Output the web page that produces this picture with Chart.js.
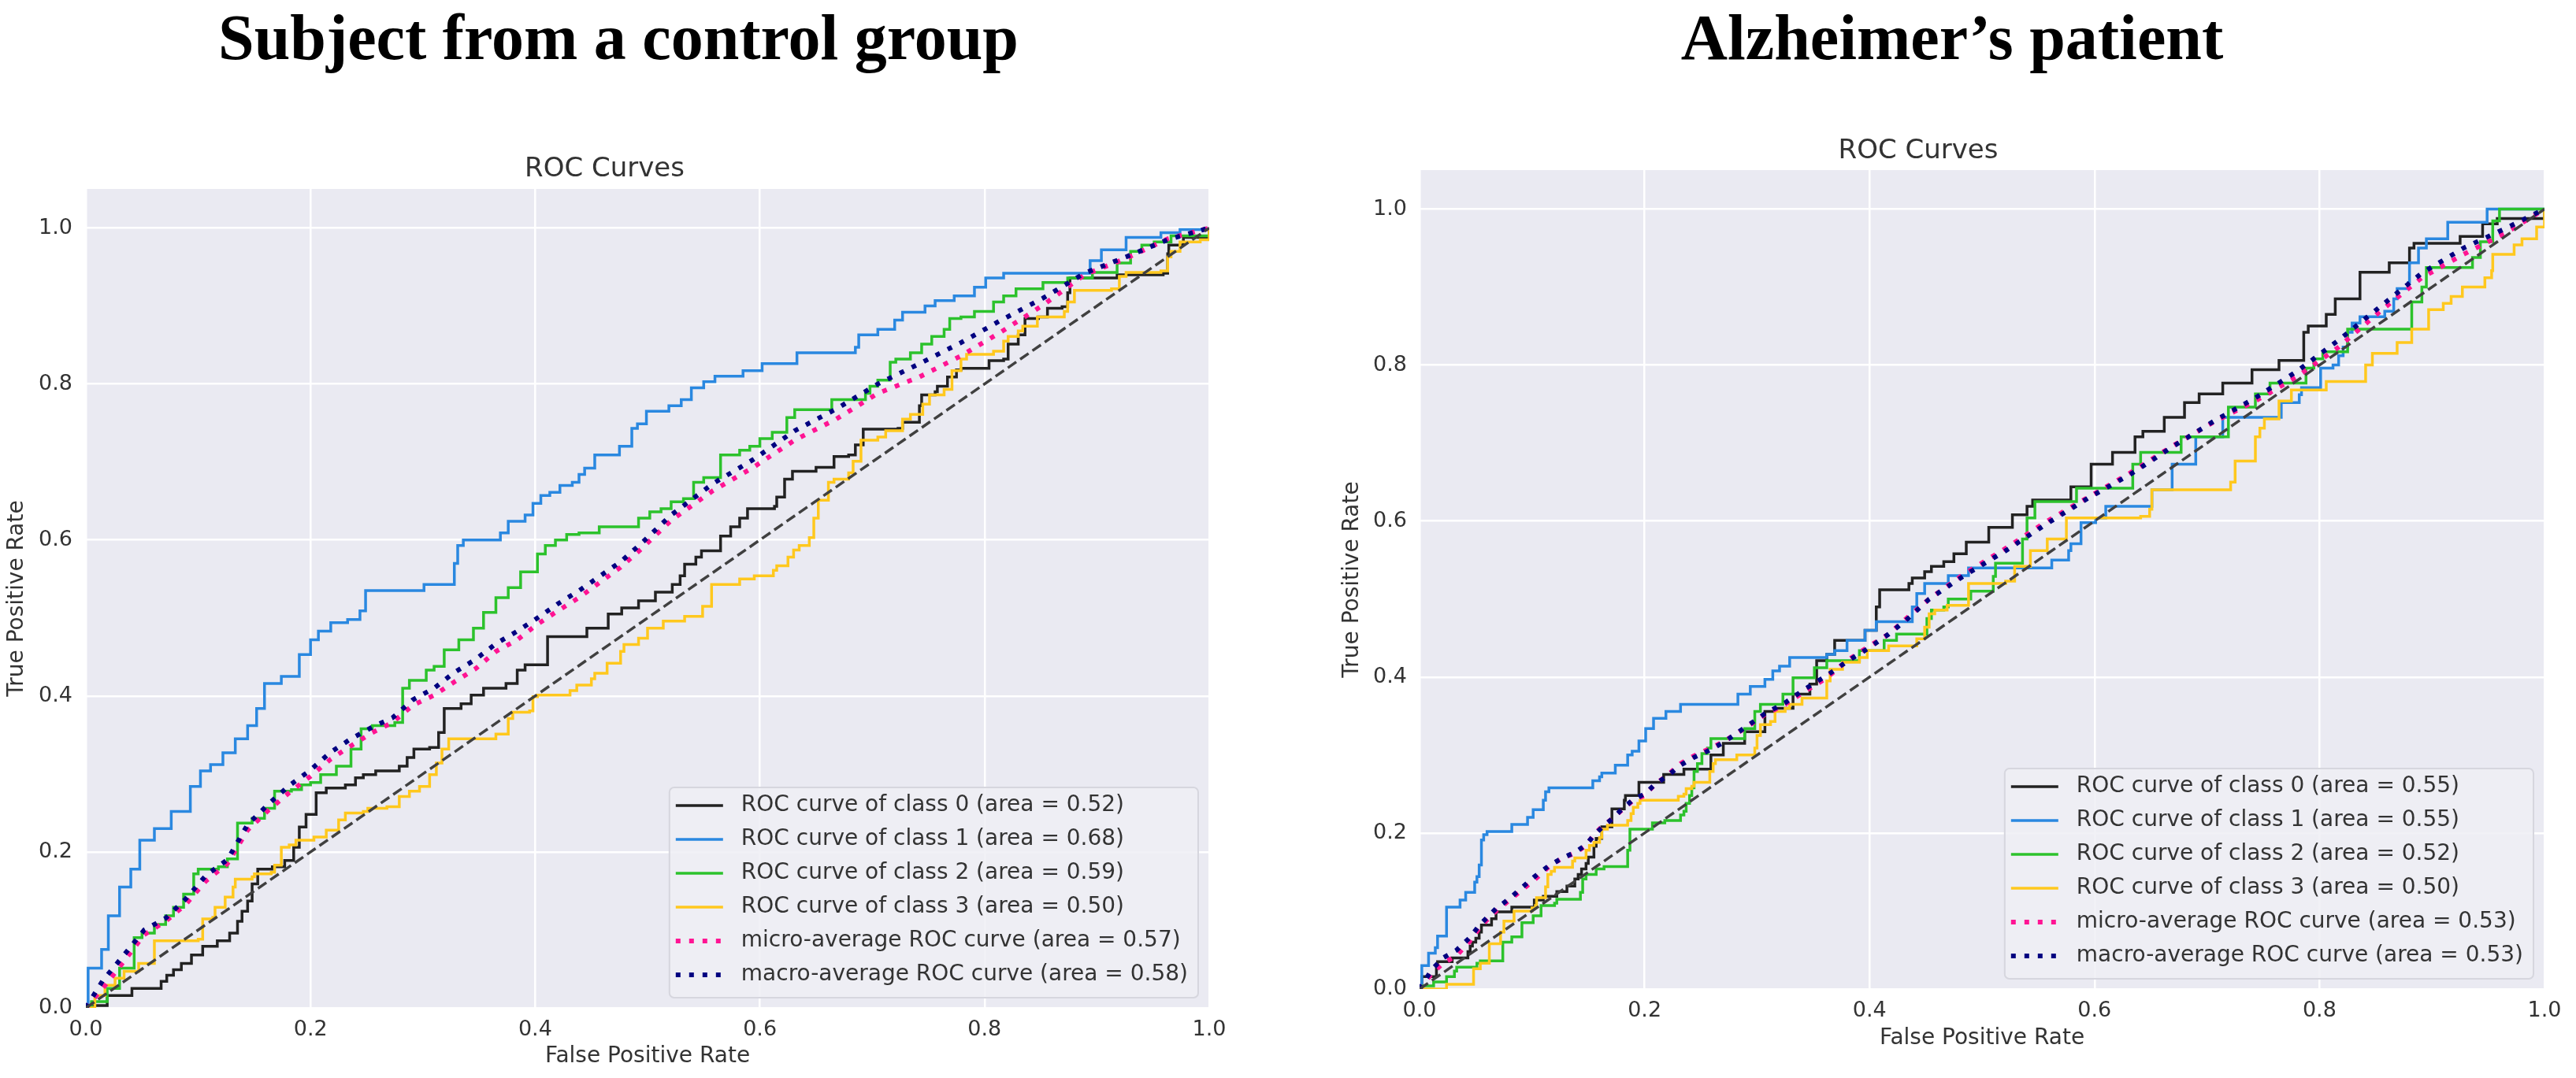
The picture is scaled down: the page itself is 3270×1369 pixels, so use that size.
<!DOCTYPE html>
<html>
<head>
<meta charset="utf-8">
<script src="https://cdn.jsdelivr.net/npm/chart.js@4.4.1/dist/chart.umd.min.js"></script>
<style>
  body { margin: 0; background: #fff; width: 3270px; height: 1369px; position: relative; overflow: hidden; }
  .panel-title {
    position: absolute; top: 7px; width: 1600px; z-index: 2;
    text-align: center; white-space: nowrap; color: #000;
    font-family: "Liberation Serif", serif; font-weight: bold; font-size: 82px; line-height: 82px;
  }
  canvas { position: absolute; top: 0; }
</style>
</head>
<body>
<div class="panel-title" style="left:-15px">Subject from a control group</div>
<div class="panel-title" style="left:1678px">Alzheimer’s patient</div>
<canvas id="ctrl" width="1640" height="1369" style="left:0"></canvas>
<canvas id="ad" width="1630" height="1369" style="left:1640px"></canvas>
<script>
// ---- values: [false positive rate, true positive rate] ----
// class curves are step corners (curve rises at x, then runs flat to the next x)

const tickValues = [0, 0.2, 0.4, 0.6, 0.8, 1.0];

const ctrlAreas = [0.52, 0.68, 0.59, 0.50, 0.57, 0.58];
const adAreas = [0.55, 0.55, 0.52, 0.50, 0.53, 0.53];

const ctrlClass0 = [[0,0],[0,0.003],[0.019,0.016],[0.041,0.025],[0.067,0.034],[0.072,0.042],[0.078,0.049],[0.085,0.057],[0.094,0.068],[0.104,0.079],[0.117,0.086],[0.128,0.096],[0.135,0.111],[0.139,0.124],[0.144,0.137],[0.148,0.159],[0.153,0.178],[0.166,0.181],[0.177,0.189],[0.185,0.206],[0.19,0.232],[0.196,0.248],[0.205,0.276],[0.214,0.282],[0.231,0.286],[0.24,0.295],[0.247,0.299],[0.258,0.304],[0.279,0.31],[0.286,0.321],[0.292,0.332],[0.306,0.334],[0.314,0.353],[0.319,0.384],[0.334,0.39],[0.343,0.401],[0.354,0.41],[0.374,0.416],[0.384,0.433],[0.391,0.44],[0.411,0.476],[0.446,0.487],[0.465,0.505],[0.477,0.513],[0.492,0.522],[0.507,0.533],[0.522,0.543],[0.529,0.554],[0.533,0.569],[0.543,0.578],[0.548,0.586],[0.565,0.605],[0.574,0.617],[0.582,0.628],[0.589,0.64],[0.613,0.643],[0.615,0.655],[0.622,0.678],[0.629,0.688],[0.65,0.693],[0.666,0.707],[0.679,0.709],[0.685,0.722],[0.692,0.742],[0.723,0.743],[0.727,0.751],[0.742,0.772],[0.744,0.786],[0.756,0.79],[0.758,0.797],[0.767,0.809],[0.775,0.818],[0.779,0.82],[0.804,0.83],[0.817,0.832],[0.821,0.851],[0.83,0.863],[0.836,0.884],[0.848,0.886],[0.856,0.897],[0.869,0.899],[0.874,0.917],[0.876,0.936],[0.918,0.94],[0.959,0.942],[0.963,0.967],[0.964,0.978],[0.977,0.988],[1,1]];
const ctrlClass1 = [[0,0],[0.002,0.051],[0.014,0.075],[0.02,0.118],[0.03,0.155],[0.04,0.178],[0.048,0.215],[0.061,0.23],[0.076,0.252],[0.093,0.284],[0.102,0.304],[0.111,0.312],[0.122,0.327],[0.133,0.345],[0.144,0.362],[0.152,0.384],[0.159,0.416],[0.174,0.425],[0.19,0.453],[0.2,0.472],[0.207,0.483],[0.218,0.494],[0.233,0.498],[0.244,0.509],[0.249,0.535],[0.301,0.543],[0.328,0.57],[0.331,0.593],[0.336,0.6],[0.369,0.609],[0.376,0.624],[0.391,0.632],[0.398,0.647],[0.405,0.657],[0.413,0.661],[0.422,0.67],[0.433,0.674],[0.439,0.684],[0.444,0.692],[0.453,0.709],[0.475,0.72],[0.486,0.743],[0.491,0.749],[0.499,0.765],[0.519,0.772],[0.53,0.78],[0.539,0.795],[0.55,0.803],[0.56,0.81],[0.585,0.817],[0.602,0.826],[0.633,0.84],[0.685,0.847],[0.688,0.863],[0.705,0.87],[0.72,0.882],[0.727,0.892],[0.747,0.9],[0.756,0.907],[0.773,0.913],[0.791,0.924],[0.801,0.936],[0.817,0.942],[0.894,0.958],[0.904,0.972],[0.926,0.988],[0.957,0.994],[0.974,0.998],[1,1]];
const ctrlClass2 = [[0,0],[0.005,0.008],[0.019,0.025],[0.03,0.051],[0.043,0.09],[0.05,0.096],[0.061,0.107],[0.071,0.118],[0.078,0.129],[0.087,0.146],[0.096,0.172],[0.1,0.178],[0.118,0.181],[0.126,0.191],[0.135,0.237],[0.148,0.243],[0.159,0.256],[0.168,0.278],[0.183,0.28],[0.192,0.286],[0.2,0.289],[0.209,0.299],[0.223,0.31],[0.236,0.332],[0.245,0.358],[0.255,0.362],[0.275,0.366],[0.282,0.41],[0.288,0.42],[0.303,0.433],[0.31,0.438],[0.319,0.459],[0.332,0.472],[0.345,0.487],[0.354,0.507],[0.365,0.526],[0.376,0.539],[0.387,0.559],[0.402,0.582],[0.409,0.593],[0.418,0.6],[0.428,0.607],[0.439,0.609],[0.457,0.617],[0.492,0.628],[0.502,0.636],[0.512,0.64],[0.521,0.649],[0.532,0.653],[0.541,0.674],[0.55,0.68],[0.565,0.709],[0.582,0.715],[0.591,0.72],[0.6,0.73],[0.611,0.738],[0.624,0.757],[0.631,0.767],[0.664,0.78],[0.694,0.788],[0.698,0.797],[0.705,0.805],[0.716,0.828],[0.721,0.832],[0.734,0.84],[0.744,0.851],[0.753,0.861],[0.764,0.87],[0.769,0.884],[0.779,0.886],[0.791,0.893],[0.808,0.905],[0.817,0.913],[0.828,0.922],[0.852,0.93],[0.874,0.936],[0.896,0.943],[0.918,0.955],[0.93,0.97],[0.94,0.978],[0.951,0.982],[0.966,0.99],[1,1]];
const ctrlClass3 = [[0,0],[0.008,0.016],[0.017,0.029],[0.026,0.038],[0.034,0.047],[0.047,0.057],[0.061,0.086],[0.1,0.088],[0.104,0.114],[0.113,0.116],[0.115,0.129],[0.124,0.142],[0.131,0.155],[0.133,0.165],[0.148,0.168],[0.15,0.172],[0.165,0.174],[0.168,0.183],[0.174,0.206],[0.181,0.209],[0.187,0.215],[0.203,0.219],[0.214,0.228],[0.225,0.241],[0.231,0.25],[0.247,0.252],[0.251,0.256],[0.268,0.258],[0.279,0.271],[0.288,0.278],[0.297,0.284],[0.306,0.299],[0.312,0.314],[0.317,0.332],[0.323,0.345],[0.365,0.351],[0.376,0.371],[0.38,0.379],[0.395,0.381],[0.398,0.399],[0.402,0.401],[0.431,0.407],[0.437,0.414],[0.45,0.422],[0.453,0.429],[0.464,0.442],[0.476,0.457],[0.479,0.466],[0.492,0.474],[0.5,0.487],[0.514,0.496],[0.533,0.502],[0.549,0.515],[0.557,0.543],[0.582,0.55],[0.595,0.554],[0.612,0.561],[0.615,0.567],[0.625,0.578],[0.63,0.587],[0.635,0.593],[0.644,0.603],[0.648,0.628],[0.652,0.651],[0.661,0.674],[0.666,0.678],[0.679,0.686],[0.683,0.701],[0.69,0.728],[0.705,0.732],[0.712,0.74],[0.727,0.755],[0.734,0.761],[0.745,0.774],[0.751,0.786],[0.764,0.793],[0.771,0.817],[0.779,0.832],[0.784,0.838],[0.808,0.842],[0.817,0.855],[0.821,0.861],[0.83,0.868],[0.834,0.874],[0.847,0.886],[0.871,0.893],[0.874,0.905],[0.88,0.92],[0.913,0.922],[0.92,0.938],[0.926,0.943],[0.957,0.945],[0.963,0.963],[0.966,0.97],[0.974,0.982],[0.992,0.985],[1,1]];
const ctrlMicro = [[0,0],[0.015,0.025],[0.034,0.06],[0.052,0.094],[0.071,0.111],[0.089,0.133],[0.107,0.163],[0.126,0.185],[0.144,0.228],[0.163,0.254],[0.181,0.276],[0.2,0.297],[0.218,0.319],[0.236,0.336],[0.255,0.353],[0.273,0.366],[0.291,0.388],[0.31,0.401],[0.328,0.418],[0.347,0.435],[0.365,0.457],[0.384,0.472],[0.402,0.492],[0.42,0.509],[0.439,0.526],[0.457,0.545],[0.476,0.565],[0.494,0.588],[0.521,0.625],[0.558,0.663],[0.594,0.693],[0.631,0.728],[0.668,0.755],[0.705,0.788],[0.742,0.809],[0.779,0.836],[0.815,0.867],[0.852,0.901],[0.889,0.94],[0.926,0.961],[0.963,0.986],[1,1]];
const ctrlMacro = [[0,0],[0.015,0.035],[0.034,0.068],[0.052,0.1],[0.071,0.115],[0.089,0.14],[0.107,0.17],[0.126,0.19],[0.144,0.235],[0.163,0.262],[0.181,0.285],[0.2,0.305],[0.218,0.328],[0.236,0.345],[0.255,0.36],[0.273,0.372],[0.291,0.395],[0.31,0.41],[0.328,0.43],[0.347,0.447],[0.365,0.467],[0.384,0.483],[0.402,0.5],[0.42,0.518],[0.439,0.535],[0.457,0.553],[0.476,0.572],[0.494,0.595],[0.521,0.632],[0.558,0.672],[0.594,0.703],[0.631,0.74],[0.668,0.768],[0.705,0.8],[0.742,0.826],[0.779,0.853],[0.815,0.882],[0.852,0.91],[0.889,0.942],[0.926,0.963],[0.963,0.985],[1,1]];

const adClass0 = [[0,0],[0.002,0.016],[0.015,0.028],[0.016,0.035],[0.029,0.04],[0.043,0.048],[0.045,0.055],[0.047,0.06],[0.05,0.065],[0.053,0.073],[0.055,0.082],[0.064,0.09],[0.068,0.099],[0.082,0.105],[0.102,0.114],[0.11,0.119],[0.122,0.125],[0.131,0.132],[0.138,0.141],[0.141,0.147],[0.144,0.154],[0.148,0.161],[0.15,0.169],[0.155,0.183],[0.157,0.193],[0.162,0.208],[0.171,0.231],[0.182,0.242],[0.183,0.248],[0.195,0.265],[0.217,0.275],[0.235,0.282],[0.259,0.3],[0.27,0.315],[0.289,0.33],[0.307,0.356],[0.316,0.36],[0.332,0.378],[0.347,0.391],[0.353,0.421],[0.362,0.429],[0.369,0.447],[0.396,0.46],[0.406,0.49],[0.409,0.512],[0.435,0.52],[0.438,0.527],[0.449,0.535],[0.455,0.542],[0.466,0.548],[0.475,0.558],[0.486,0.573],[0.506,0.592],[0.527,0.608],[0.54,0.619],[0.545,0.627],[0.579,0.644],[0.597,0.673],[0.616,0.688],[0.636,0.708],[0.643,0.715],[0.662,0.733],[0.68,0.752],[0.693,0.763],[0.714,0.777],[0.74,0.794],[0.764,0.806],[0.786,0.842],[0.79,0.85],[0.806,0.865],[0.814,0.885],[0.836,0.919],[0.862,0.931],[0.88,0.95],[0.884,0.956],[0.925,0.965],[0.945,0.981],[0.958,0.988],[1,1]];
const adClass1 = [[0,0],[0.002,0.03],[0.008,0.046],[0.014,0.053],[0.016,0.068],[0.024,0.105],[0.036,0.114],[0.041,0.124],[0.049,0.137],[0.051,0.144],[0.053,0.159],[0.055,0.191],[0.057,0.198],[0.06,0.202],[0.082,0.211],[0.096,0.22],[0.101,0.23],[0.11,0.242],[0.112,0.253],[0.115,0.258],[0.154,0.267],[0.16,0.272],[0.162,0.277],[0.174,0.287],[0.185,0.3],[0.189,0.305],[0.195,0.318],[0.201,0.334],[0.208,0.347],[0.219,0.356],[0.232,0.365],[0.283,0.378],[0.294,0.388],[0.307,0.397],[0.314,0.408],[0.32,0.414],[0.329,0.425],[0.362,0.429],[0.369,0.434],[0.38,0.447],[0.396,0.46],[0.406,0.471],[0.438,0.49],[0.442,0.507],[0.449,0.52],[0.47,0.53],[0.488,0.54],[0.562,0.55],[0.577,0.562],[0.579,0.571],[0.588,0.598],[0.601,0.604],[0.61,0.619],[0.651,0.64],[0.669,0.673],[0.69,0.708],[0.714,0.733],[0.766,0.752],[0.782,0.762],[0.784,0.771],[0.801,0.796],[0.812,0.8],[0.817,0.812],[0.821,0.823],[0.825,0.842],[0.829,0.854],[0.836,0.862],[0.858,0.869],[0.866,0.885],[0.869,0.898],[0.879,0.906],[0.88,0.931],[0.888,0.95],[0.895,0.962],[0.914,0.983],[0.949,1.0],[1,1]];
const adClass2 = [[0,0],[0.002,0.004],[0.0125,0.009],[0.024,0.016],[0.031,0.023],[0.033,0.028],[0.051,0.033],[0.054,0.036],[0.074,0.06],[0.082,0.067],[0.091,0.085],[0.101,0.094],[0.108,0.107],[0.12,0.11],[0.122,0.115],[0.143,0.124],[0.145,0.141],[0.148,0.147],[0.157,0.154],[0.164,0.157],[0.185,0.178],[0.187,0.205],[0.207,0.213],[0.218,0.216],[0.232,0.223],[0.235,0.228],[0.237,0.238],[0.24,0.248],[0.242,0.258],[0.244,0.279],[0.247,0.289],[0.251,0.302],[0.256,0.309],[0.259,0.321],[0.289,0.334],[0.298,0.356],[0.303,0.365],[0.323,0.378],[0.332,0.399],[0.351,0.412],[0.362,0.421],[0.391,0.434],[0.413,0.447],[0.424,0.455],[0.451,0.475],[0.455,0.486],[0.466,0.49],[0.47,0.5],[0.49,0.51],[0.51,0.529],[0.512,0.546],[0.536,0.577],[0.54,0.604],[0.547,0.625],[0.584,0.642],[0.634,0.673],[0.641,0.688],[0.677,0.708],[0.719,0.746],[0.743,0.763],[0.756,0.777],[0.788,0.796],[0.795,0.808],[0.803,0.817],[0.825,0.846],[0.882,0.881],[0.891,0.9],[0.895,0.925],[0.936,0.938],[0.943,0.958],[0.954,0.985],[0.96,1.0],[1,1]];
const adClass3 = [[0,0],[0.024,0.006],[0.048,0.026],[0.054,0.033],[0.062,0.058],[0.072,0.073],[0.075,0.087],[0.084,0.1],[0.1,0.104],[0.103,0.107],[0.104,0.117],[0.112,0.131],[0.114,0.147],[0.117,0.151],[0.12,0.156],[0.136,0.164],[0.138,0.168],[0.148,0.178],[0.151,0.184],[0.155,0.188],[0.16,0.194],[0.162,0.205],[0.167,0.21],[0.185,0.216],[0.188,0.225],[0.19,0.233],[0.194,0.238],[0.196,0.242],[0.23,0.247],[0.235,0.25],[0.237,0.257],[0.242,0.26],[0.244,0.265],[0.258,0.279],[0.261,0.289],[0.263,0.294],[0.282,0.3],[0.298,0.309],[0.3,0.325],[0.303,0.339],[0.312,0.343],[0.316,0.356],[0.325,0.36],[0.329,0.365],[0.34,0.373],[0.362,0.395],[0.365,0.41],[0.376,0.419],[0.391,0.425],[0.398,0.434],[0.417,0.44],[0.442,0.449],[0.449,0.464],[0.453,0.481],[0.458,0.486],[0.469,0.492],[0.488,0.52],[0.521,0.523],[0.529,0.542],[0.543,0.562],[0.558,0.577],[0.575,0.604],[0.641,0.606],[0.649,0.615],[0.651,0.64],[0.721,0.65],[0.725,0.677],[0.743,0.708],[0.747,0.719],[0.751,0.731],[0.764,0.754],[0.775,0.768],[0.806,0.779],[0.841,0.8],[0.847,0.815],[0.869,0.829],[0.882,0.846],[0.897,0.871],[0.91,0.879],[0.917,0.888],[0.927,0.9],[0.947,0.912],[0.953,0.921],[0.954,0.942],[0.973,0.954],[0.98,0.962],[0.993,0.977],[1,0.985],[1,1]];
const adMicro = [[0,0],[0.011,0.02],[0.021,0.033],[0.033,0.043],[0.044,0.06],[0.054,0.08],[0.068,0.1],[0.08,0.114],[0.091,0.127],[0.103,0.141],[0.115,0.157],[0.127,0.168],[0.138,0.174],[0.148,0.184],[0.155,0.198],[0.162,0.208],[0.171,0.218],[0.181,0.231],[0.19,0.242],[0.2,0.248],[0.209,0.262],[0.221,0.275],[0.232,0.289],[0.244,0.299],[0.256,0.307],[0.27,0.317],[0.289,0.334],[0.307,0.352],[0.325,0.365],[0.343,0.382],[0.362,0.399],[0.38,0.421],[0.398,0.438],[0.417,0.455],[0.435,0.478],[0.453,0.5],[0.484,0.532],[0.521,0.565],[0.558,0.6],[0.595,0.631],[0.632,0.662],[0.669,0.696],[0.706,0.727],[0.743,0.754],[0.78,0.785],[0.817,0.823],[0.854,0.869],[0.891,0.912],[0.928,0.942],[0.965,0.969],[1,1]];
const adMacro = [[0,0],[0.011,0.025],[0.021,0.04],[0.033,0.05],[0.044,0.065],[0.054,0.083],[0.068,0.103],[0.08,0.116],[0.091,0.13],[0.103,0.145],[0.115,0.158],[0.127,0.168],[0.138,0.175],[0.148,0.185],[0.155,0.197],[0.162,0.207],[0.171,0.218],[0.181,0.232],[0.19,0.243],[0.2,0.25],[0.209,0.262],[0.221,0.274],[0.232,0.287],[0.244,0.297],[0.256,0.305],[0.27,0.316],[0.289,0.335],[0.307,0.353],[0.325,0.367],[0.343,0.385],[0.362,0.402],[0.38,0.42],[0.398,0.436],[0.417,0.455],[0.435,0.476],[0.453,0.5],[0.484,0.53],[0.521,0.562],[0.558,0.597],[0.595,0.63],[0.632,0.66],[0.669,0.695],[0.706,0.728],[0.743,0.758],[0.78,0.792],[0.817,0.832],[0.854,0.875],[0.891,0.918],[0.928,0.95],[0.965,0.975],[1,1]];

const chanceLine = [[0,0],[1,1]];

// ---- styling ----
const curveColors = ['#222222', '#2a88e0', '#2cc22c', '#ffc81e', '#ff1493', '#000080'];
const textColor = '#333333';
const font = 'DejaVu Sans';
const dotDash = [6, 11];

function legendText(i, area) {
  const a = area.toFixed(2);
  if (i < 4) return `ROC curve of class ${i} (area = ${a})`;
  return `${i === 4 ? 'micro' : 'macro'}-average ROC curve (area = ${a})`;
}

// gray axes background like seaborn darkgrid
const plotBackground = {
  id: 'plotBackground',
  beforeDraw(chart) {
    const { ctx, chartArea: a } = chart;
    ctx.save();
    ctx.fillStyle = '#eaeaf2';
    ctx.fillRect(a.left, a.top, a.right - a.left, a.bottom - a.top);
    ctx.restore();
  },
};

// matplotlib style legend box in the lower right corner of the axes
const cornerLegend = {
  id: 'cornerLegend',
  afterDraw(chart, args, opts) {
    const { ctx, chartArea } = chart;
    const items = chart.data.datasets.filter((d) => d.label);
    ctx.save();
    ctx.font = `${opts.fontSize}px "${font}"`;
    const textW = Math.max(...items.map((d) => ctx.measureText(d.label).width));
    const w = opts.padLeft + opts.sample + opts.gap + textW + opts.padRight;
    const h = opts.firstRow + opts.rowH * (items.length - 1) + opts.lastPad;
    const x = chartArea.right - opts.insetRight - w;
    const y = chartArea.bottom - opts.insetBottom - h;
    const r = 6;
    ctx.beginPath();
    ctx.moveTo(x + r, y);
    ctx.arcTo(x + w, y, x + w, y + h, r);
    ctx.arcTo(x + w, y + h, x, y + h, r);
    ctx.arcTo(x, y + h, x, y, r);
    ctx.arcTo(x, y, x + w, y, r);
    ctx.closePath();
    ctx.fillStyle = 'rgba(238,238,245,0.85)';
    ctx.fill();
    ctx.lineWidth = 2;
    ctx.strokeStyle = '#d6d6de';
    ctx.stroke();
    items.forEach((d, i) => {
      const cy = y + opts.firstRow + i * opts.rowH;
      const x0 = x + opts.padLeft;
      ctx.beginPath();
      ctx.setLineDash(d.borderDash || []);
      ctx.lineWidth = d.borderWidth;
      ctx.strokeStyle = d.borderColor;
      ctx.moveTo(x0, cy);
      ctx.lineTo(x0 + opts.sample, cy);
      ctx.stroke();
      ctx.setLineDash([]);
      ctx.fillStyle = textColor;
      ctx.textBaseline = 'middle';
      ctx.textAlign = 'left';
      ctx.fillText(d.label, x0 + opts.sample + opts.gap, cy);
    });
    ctx.restore();
  },
};

function rocChart(canvas, curves, areas, L) {
  const datasets = curves.map((pts, i) => ({
    label: legendText(i, areas[i]),
    data: pts.map(([x, y]) => ({ x, y })),
    borderColor: curveColors[i],
    borderWidth: i < 4 ? 3.5 : 6,
    borderDash: i < 4 ? [] : dotDash,
    stepped: i < 4 ? 'before' : false,
    order: 10 - i,
  }));
  datasets.push({
    data: chanceLine.map(([x, y]) => ({ x, y })),
    borderColor: '#404040',
    borderWidth: 3.5,
    borderDash: [13, 6],
    order: 0,
  });

  const tickFont = { family: font, size: 27 };
  const labelFont = { family: font, size: 28 };

  return new Chart(canvas.getContext('2d'), {
    type: 'line',
    data: { datasets },
    plugins: [plotBackground, cornerLegend],
    options: {
      responsive: false,
      animation: false,
      events: [],
      elements: {
        point: { radius: 0 },
        line: { tension: 0, fill: false, borderCapStyle: 'butt', borderJoinStyle: 'miter' },
      },
      layout: { padding: { left: 0, top: 0, right: L.padRight, bottom: 0 } },
      scales: {
        x: {
          type: 'linear',
          min: 0,
          max: 1,
          afterBuildTicks: (s) => { s.ticks = tickValues.map((v) => ({ value: v })); },
          afterFit: (s) => { s.height = L.xAxisHeight; s.paddingLeft = 0; s.paddingRight = 0; },
          grid: { color: '#ffffff', lineWidth: 2.5, drawTicks: false },
          border: { display: false },
          ticks: { color: textColor, font: tickFont, padding: 12, maxRotation: 0, callback: (v) => v.toFixed(1) },
          title: { display: true, text: 'False Positive Rate', color: textColor, font: labelFont, padding: { top: 0, bottom: L.xTitlePad } },
        },
        y: {
          type: 'linear',
          min: 0,
          max: 1.05,
          afterBuildTicks: (s) => { s.ticks = tickValues.map((v) => ({ value: v })); },
          afterFit: (s) => { s.width = L.yAxisWidth; s.paddingTop = 0; s.paddingBottom = 0; },
          grid: { color: '#ffffff', lineWidth: 2.5, drawTicks: false },
          border: { display: false },
          ticks: { color: textColor, font: tickFont, padding: L.yTickPad, callback: (v) => v.toFixed(1) },
          title: { display: true, text: 'True Positive Rate', color: textColor, font: labelFont, padding: { top: L.yTitlePad, bottom: 0 } },
        },
      },
      plugins: {
        legend: { display: false },
        tooltip: { enabled: false },
        title: {
          display: true,
          text: 'ROC Curves',
          color: textColor,
          font: { family: font, size: 34, weight: 'normal' },
          padding: { top: L.titleTop, bottom: L.titleBottom },
        },
        cornerLegend: {
          fontSize: 28, padLeft: 8, sample: 60, gap: 23, padRight: 13,
          firstRow: 23, rowH: 43, lastPad: 29, insetRight: 14, insetBottom: 13,
        },
      },
    },
  });
}

rocChart(document.getElementById('ctrl'),
  [ctrlClass0, ctrlClass1, ctrlClass2, ctrlClass3, ctrlMicro, ctrlMacro], ctrlAreas,
  { padRight: 105, xAxisHeight: 89, xTitlePad: 10, yAxisWidth: 109, yTickPad: 17, yTitlePad: 5, titleTop: 195, titleBottom: 4.2 });

rocChart(document.getElementById('ad'),
  [adClass0, adClass1, adClass2, adClass3, adMicro, adMacro], adAreas,
  { padRight: 40, xAxisHeight: 113, xTitlePad: 33, yAxisWidth: 162, yTickPad: 16, yTitlePad: 60, titleTop: 172, titleBottom: 3.2 });
</script>
</body>
</html>
